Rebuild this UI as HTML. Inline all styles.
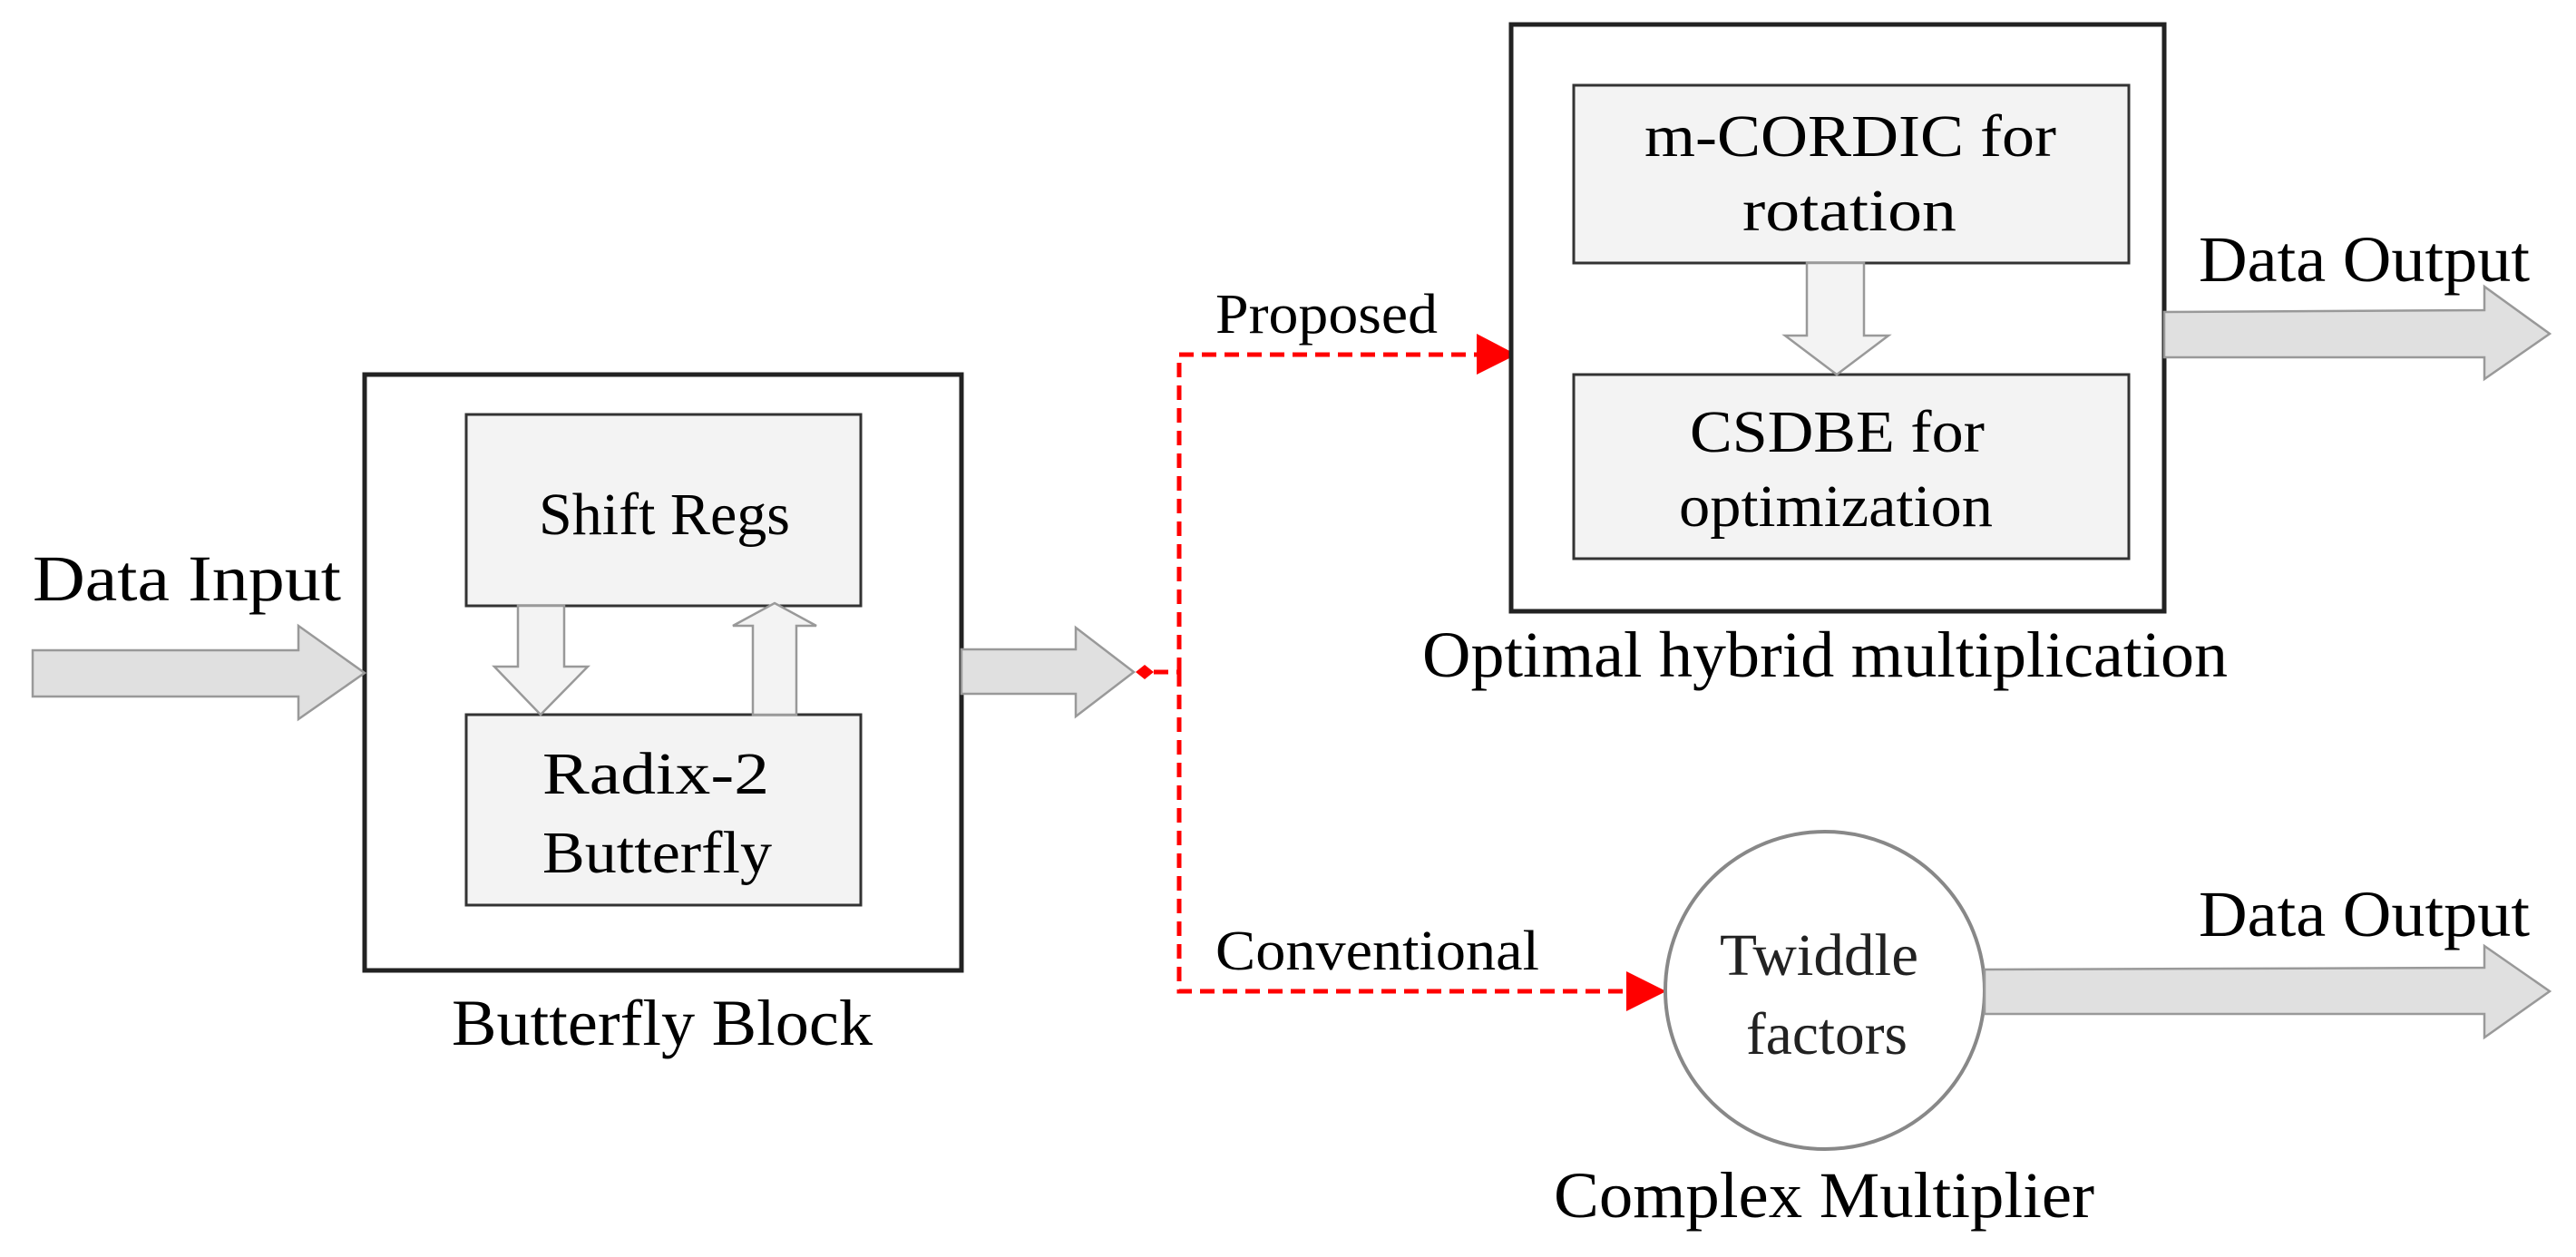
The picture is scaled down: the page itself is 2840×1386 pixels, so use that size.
<!DOCTYPE html>
<html><head><meta charset="utf-8"><style>html,body{margin:0;padding:0;background:#fff}svg{display:block}</style></head>
<body>
<svg width="2840" height="1386" viewBox="0 0 2840 1386" xmlns="http://www.w3.org/2000/svg" font-family="Liberation Serif, serif" fill="#000">
<!-- Butterfly block -->
<rect x="402" y="413" width="658" height="657" fill="#fff" stroke="#222" stroke-width="5"/>
<rect x="514" y="457" width="435" height="211" fill="#f3f3f3" stroke="#333" stroke-width="3"/>
<rect x="514" y="788" width="435" height="210" fill="#f3f3f3" stroke="#333" stroke-width="3"/>
<polygon points="571,668 622,668 622,735 648,735 596,788 545,735 571,735" fill="#f3f3f3" stroke="#999" stroke-width="2.5"/>
<polygon points="830,788 878,788 878,690 900,690 854,665 808,690 830,690" fill="#f3f3f3" stroke="#999" stroke-width="2.5"/>
<!-- input arrow -->
<polygon points="36,717 329,717 329,690 402,742 329,793 329,768 36,768" fill="#e0e0e0" stroke="#999" stroke-width="2.5"/>
<!-- block out arrow -->
<polygon points="1060,716 1186,716 1186,692 1250,741 1186,790 1186,765 1060,765" fill="#e0e0e0" stroke="#999" stroke-width="2.5"/>
<!-- red connectors -->
<polygon points="1252,741 1262,733 1272,741 1262,749" fill="#f00"/>
<path d="M1272,741 H1300 M1300,741 V391 H1632 M1300,741 V1093 H1800" stroke="#f00" stroke-width="5" fill="none" stroke-dasharray="16,9"/>
<polygon points="1628,368 1672,391 1628,413" fill="#f00"/>
<polygon points="1793,1071 1837,1093 1793,1115" fill="#f00"/>
<!-- optimal box -->
<rect x="1666" y="27" width="720" height="647" fill="#fff" stroke="#222" stroke-width="5"/>
<rect x="1735" y="94" width="612" height="196" fill="#f3f3f3" stroke="#333" stroke-width="3"/>
<rect x="1735" y="413" width="612" height="203" fill="#f3f3f3" stroke="#333" stroke-width="3"/>
<polygon points="1992,290 2055,290 2055,370 2082,370 2025,413 1968,370 1992,370" fill="#f3f3f3" stroke="#999" stroke-width="2.5"/>
<!-- top out arrow -->
<polygon points="2386,344 2739,342 2739,316 2811,368 2739,418 2739,394 2386,394" fill="#e0e0e0" stroke="#999" stroke-width="2.5"/>
<!-- circle -->
<ellipse cx="2012" cy="1092" rx="176" ry="175" fill="#fff" stroke="#888" stroke-width="4"/>
<polygon points="2188,1069 2739,1067 2739,1043 2811,1093 2739,1144 2739,1118 2188,1118" fill="#e0e0e0" stroke="#999" stroke-width="2.5"/>
<!-- text -->
<g font-size="72">
<text x="36" y="662" textLength="340" lengthAdjust="spacingAndGlyphs">Data Input</text>
<text x="498" y="1152" textLength="464" lengthAdjust="spacingAndGlyphs">Butterfly Block</text>
<text x="2424" y="310" textLength="365" lengthAdjust="spacingAndGlyphs">Data Output</text>
<text x="2424" y="1032" textLength="365" lengthAdjust="spacingAndGlyphs">Data Output</text>
<text x="1568" y="746" textLength="888" lengthAdjust="spacingAndGlyphs">Optimal hybrid multiplication</text>
<text x="1713" y="1342" textLength="596" lengthAdjust="spacingAndGlyphs">Complex Multiplier</text>
</g>
<g font-size="66">
<text x="594" y="589" textLength="277" lengthAdjust="spacingAndGlyphs">Shift Regs</text>
<text x="598" y="875" textLength="250" lengthAdjust="spacingAndGlyphs">Radix-2</text>
<text x="598" y="962" textLength="253" lengthAdjust="spacingAndGlyphs">Butterfly</text>
<text x="1813" y="172" textLength="454" lengthAdjust="spacingAndGlyphs">m-CORDIC for</text>
<text x="1921" y="254" textLength="236" lengthAdjust="spacingAndGlyphs">rotation</text>
<text x="1863" y="498" textLength="325" lengthAdjust="spacingAndGlyphs">CSDBE for</text>
<text x="1851" y="580" textLength="346" lengthAdjust="spacingAndGlyphs">optimization</text>
<text x="1896" y="1075" textLength="219" lengthAdjust="spacingAndGlyphs" fill="#222">Twiddle</text>
<text x="1925" y="1162" textLength="178" lengthAdjust="spacingAndGlyphs" fill="#222">factors</text>
<text x="1340" y="367" textLength="245" lengthAdjust="spacingAndGlyphs" font-size="62">Proposed</text>
<text x="1340" y="1069" textLength="357" lengthAdjust="spacingAndGlyphs" font-size="62">Conventional</text>
</g>
</svg>
</body></html>
